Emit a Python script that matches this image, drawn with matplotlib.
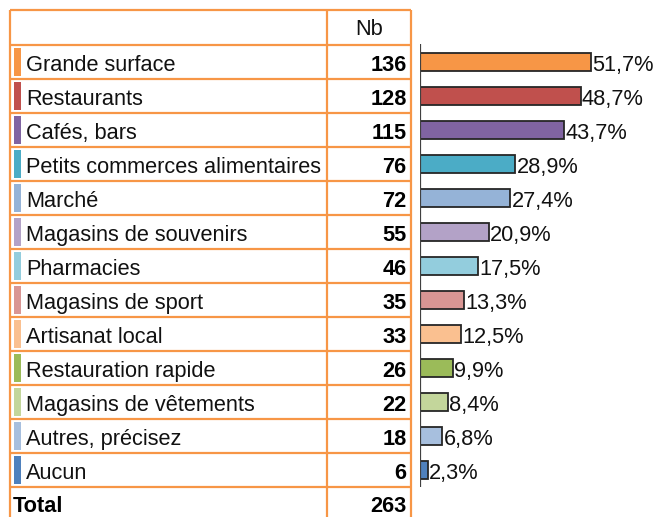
import matplotlib
matplotlib.use("Agg")
import matplotlib.pyplot as plt
from matplotlib.patches import Rectangle

plt.rcParams['font.family'] = ['Liberation Sans', 'DejaVu Sans']

categories = ["Grande surface", "Restaurants", "Cafés, bars", "Petits commerces alimentaires",
              "Marché", "Magasins de souvenirs", "Pharmacies", "Magasins de sport",
              "Artisanat local", "Restauration rapide", "Magasins de vêtements",
              "Autres, précisez", "Aucun"]
counts = [136, 128, 115, 76, 72, 55, 46, 35, 33, 26, 22, 18, 6]
percents = [51.7, 48.7, 43.7, 28.9, 27.4, 20.9, 17.5, 13.3, 12.5, 9.9, 8.4, 6.8, 2.3]
total_label = "Total"
total_value = 263
header = "Nb"
colors = ["#F79646", "#C0504D", "#8064A2", "#4BACC6", "#95B3D7", "#B3A2C7", "#93CDDD",
          "#D99694", "#FAC090", "#9BBB59", "#C3D69B", "#A7BFDE", "#4F81BD"]

W, H = 657, 517
fig = plt.figure(figsize=(W / 100, H / 100), dpi=100)

# ---- table (pixel coordinates) ----
tab = fig.add_axes([0, 0, 1, 1])
tab.set_xlim(0, W)
tab.set_ylim(H, 0)
tab.axis('off')

orange = "#F79646"
x_left, x_div, x_right = 10, 327, 411
y_top, row0, rh = 10, 44.7, 34
n = len(categories)
fs = 15.7
txt = '#111111'

for k in range(n + 2):
    y = y_top if k == 0 else row0 + rh * (k - 1)
    tab.plot([x_left, x_right], [y, y], color=orange, lw=1.6, solid_capstyle='butt')
for x in (x_left, x_div, x_right):
    tab.plot([x, x], [y_top, H + 5], color=orange, lw=1.6, solid_capstyle='butt')

tab.text((x_div + x_right) / 2, 35, header, ha='center', va='baseline', fontsize=fs, color=txt)

for i, (cat, c, col) in enumerate(zip(categories, counts, colors)):
    top = row0 + rh * i
    cy = top + rh / 2
    tab.add_patch(Rectangle((13.5, top + 3), 7.5, rh - 6, facecolor=col, edgecolor='none'))
    tab.text(26, cy + 9, cat, ha='left', va='baseline', fontsize=fs, color=txt)
    tab.text(406.5, cy + 9, str(c), ha='right', va='baseline', fontsize=fs,
             fontweight='bold', color='#000000')

tcy = row0 + rh * n + rh / 2
tab.text(13, tcy + 8, total_label, ha='left', va='baseline', fontsize=fs, fontweight='bold', color='#000000')
tab.text(406.5, tcy + 8, str(total_value), ha='right', va='baseline', fontsize=fs, fontweight='bold', color='#000000')

# ---- bar chart ----
x0 = 420
scale = 3.3  # px per percent
ax = fig.add_axes([x0 / W, 0, (W - x0) / W, 1])
ax.set_xlim(0, (W - x0) / scale)
ax.set_ylim((H - (row0 + rh / 2)) / rh, -(row0 + rh / 2) / rh)
ax.axis('off')
ypos = list(range(n))
ax.barh(ypos, percents, height=0.53, color=colors, edgecolor='#262626', linewidth=1.3)
ax.vlines(0, -0.52, n - 0.48, color='#404040', lw=1.6)
for y, p in zip(ypos, percents):
    ax.text(p + 0.35, y + 9 / rh, f"{p:.1f}%".replace('.', ','), ha='left', va='baseline',
            fontsize=fs, color=txt)

fig.savefig("out.png", dpi=100)
